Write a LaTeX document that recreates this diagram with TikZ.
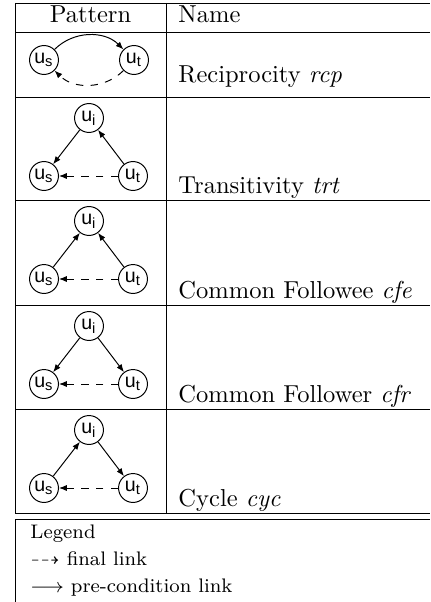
\documentclass[tikz,border=0pt]{standalone}
\usepackage{amssymb}
\usepackage{fontspec}
\newfontfamily\nodefont{Liberation Sans}
\usetikzlibrary{arrows.meta}

\tikzset{
    user/.style={draw, circle, minimum size=11.8pt, inner sep=0pt, font=\nodefont\footnotesize},
    pre/.style={-{Latex[length=3.2pt,width=2.5pt]}},
    fin/.style={dashed, -{Latex[length=3.2pt,width=2.5pt]}},
    lbl/.style={anchor=base west, inner sep=0pt}
}

\begin{document}
\begin{tikzpicture}[x=0.408pt, y=-0.408pt]
    \useasboundingbox (0,0) rectangle (430,602);
    % table
    \foreach \y in {3,32,97,200,305,409,513}
        \draw (15,\y) -- (430,\y);
    \draw (15,3) -- (15,513);
    \draw (166,3) -- (166,513);
    \node[anchor=base] at (90.5,23) (hpat) {Pattern};
    \node[lbl] at (178,23) (hname) {Name};

    % reciprocity
    \node[user] at (44,60) (s1) {u\textsubscript{s}};
    \node[user] at (134,60) (t1) {u\textsubscript{t}};
    \draw[pre] (s1) to[bend left=45] (t1);
    \draw[fin] (t1) to[bend left=45] (s1);
    \node[lbl] at (178,83) (n1) {Reciprocity \textit{rcp}};

    % triangles
    \foreach \r/\top in {2/97,3/200,4/305,5/409} {
        \node[user] at (89,\top+21) (i\r) {u\textsubscript{i}};
        \node[user] at (44,\top+79) (s\r) {u\textsubscript{s}};
        \node[user] at (133,\top+79) (t\r) {u\textsubscript{t}};
        \draw[fin] (t\r) -- (s\r);
    }
    \draw[pre] (i2) -- (s2);
    \draw[pre] (t2) -- (i2);
    \draw[pre] (s3) -- (i3);
    \draw[pre] (t3) -- (i3);
    \draw[pre] (i4) -- (s4);
    \draw[pre] (i4) -- (t4);
    \draw[pre] (s5) -- (i5);
    \draw[pre] (i5) -- (t5);
    \node[lbl] at (178,193) (n2) {Transitivity \textit{trt}};
    \node[lbl] at (178,298) (n3) {Common Followee \textit{cfe}};
    \node[lbl] at (178,402) (n4) {Common Follower \textit{cfr}};
    \node[lbl] at (178,506) (n5) {Cycle \textit{cyc}};

    % legend
    \draw (15,602) -- (15,519) -- (430,519);
    \node[lbl, font=\footnotesize] at (30,538) (leg) {Legend};
    \node[lbl, font=\footnotesize] at (30,565) (lfin) {$\dashrightarrow$ final link};
    \node[lbl, font=\footnotesize] at (30,592) (lpre) {$\longrightarrow$ pre-condition link};
\end{tikzpicture}
\end{document}
